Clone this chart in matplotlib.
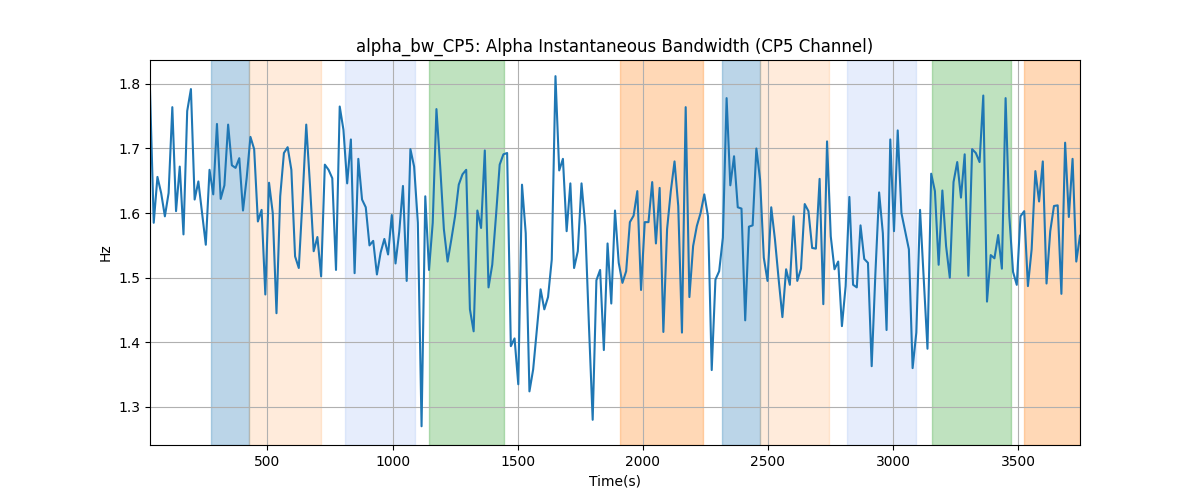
import numpy as np
import matplotlib
matplotlib.use("Agg")
import matplotlib.pyplot as plt

# alpha bandwidth values (Hz)
bw = [1.79, 1.585, 1.656, 1.631, 1.595, 1.631, 1.764, 1.603, 1.672, 1.567,
      1.758, 1.792, 1.621, 1.649, 1.600, 1.551, 1.667, 1.629, 1.738, 1.622,
      1.643, 1.737, 1.674, 1.670, 1.685, 1.604, 1.655, 1.718, 1.699, 1.587,
      1.605, 1.474, 1.647, 1.600, 1.445, 1.626, 1.693, 1.702, 1.667, 1.533,
      1.515, 1.621, 1.737, 1.644, 1.541, 1.563, 1.502, 1.675, 1.667, 1.654,
      1.512, 1.765, 1.729, 1.646, 1.714, 1.507, 1.684, 1.621, 1.609, 1.550,
      1.557, 1.505, 1.539, 1.560, 1.536, 1.597, 1.522, 1.571, 1.642, 1.495,
      1.699, 1.672, 1.585, 1.270, 1.626, 1.512, 1.585, 1.761, 1.673, 1.575,
      1.525, 1.559, 1.595, 1.644, 1.660, 1.667, 1.451, 1.417, 1.604, 1.577,
      1.697, 1.485, 1.520, 1.595, 1.675, 1.691, 1.693, 1.394, 1.406, 1.335,
      1.644, 1.569, 1.324, 1.358, 1.420, 1.482, 1.451, 1.470, 1.528, 1.812,
      1.666, 1.684, 1.572, 1.646, 1.515, 1.541, 1.646, 1.580, 1.425, 1.280,
      1.496, 1.512, 1.388, 1.553, 1.460, 1.604, 1.523, 1.492, 1.510, 1.586,
      1.596, 1.634, 1.481, 1.586, 1.586, 1.648, 1.553, 1.639, 1.416, 1.575,
      1.634, 1.680, 1.611, 1.415, 1.764, 1.470, 1.549, 1.580, 1.600, 1.629,
      1.595, 1.357, 1.497, 1.510, 1.562, 1.778, 1.643, 1.688, 1.609, 1.607,
      1.434, 1.579, 1.581, 1.700, 1.652, 1.531, 1.495, 1.609, 1.559, 1.497,
      1.439, 1.513, 1.489, 1.595, 1.495, 1.514, 1.614, 1.603, 1.546, 1.545,
      1.653, 1.459, 1.711, 1.564, 1.513, 1.525, 1.425, 1.487, 1.625, 1.489,
      1.485, 1.581, 1.529, 1.523, 1.363, 1.507, 1.632, 1.569, 1.419, 1.714,
      1.572, 1.728, 1.600, 1.572, 1.544, 1.360, 1.415, 1.605, 1.497, 1.390,
      1.661, 1.634, 1.520, 1.635, 1.549, 1.500, 1.648, 1.679, 1.624, 1.691,
      1.503, 1.699, 1.693, 1.679, 1.782, 1.463, 1.535, 1.530, 1.566, 1.514,
      1.778, 1.595, 1.509, 1.489, 1.595, 1.603, 1.487, 1.544, 1.665, 1.618,
      1.680, 1.491, 1.572, 1.611, 1.612, 1.475, 1.709, 1.594, 1.684, 1.525,
      1.565]
t_start, t_end = 31, 3747
t = np.linspace(t_start, t_end, len(bw))

# shaded segments: (start, end, colour, alpha)
seg_start = [276, 428, 812, 1144, 1908, 2316, 2468, 2816, 3156, 3522]
seg_end = [428, 716, 1088, 1444, 2240, 2468, 2744, 3092, 3472, 3747]
seg_color = ['tab:blue', 'tab:orange', 'cornflowerblue', 'tab:green', 'tab:orange',
             'tab:blue', 'tab:orange', 'cornflowerblue', 'tab:green', 'tab:orange']
seg_alpha = [0.3, 0.15, 0.16, 0.3, 0.3, 0.3, 0.15, 0.16, 0.3, 0.3]

fig, ax = plt.subplots(figsize=(12, 5), dpi=100)
for s, e, c, a in zip(seg_start, seg_end, seg_color, seg_alpha):
    ax.axvspan(s, e, color=c, alpha=a)
ax.plot(t, bw, color='tab:blue')
ax.set_xlim(t[0], t[-1])
ax.set_ylim(1.241, 1.837)
ax.grid(True)
ax.set_title('alpha_bw_CP5: Alpha Instantaneous Bandwidth (CP5 Channel)')
ax.set_xlabel('Time(s)')
ax.set_ylabel('Hz')
fig.savefig('out.png')
